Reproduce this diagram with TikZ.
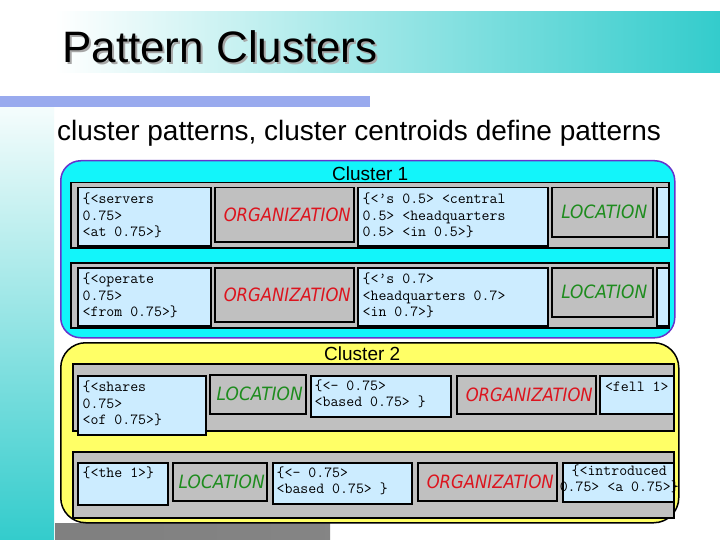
\documentclass[tikz,border=0pt]{standalone}
\usepackage{fontspec}
\usepackage{graphicx}
\setmainfont{Liberation Sans}
\newfontfamily\entf{DejaVu Sans}
\usetikzlibrary{calc}

\definecolor{tealc}{RGB}{51,204,204}
\definecolor{barblue}{RGB}{153,170,238}
\definecolor{cyanfill}{RGB}{18,245,250}
\definecolor{purpleb}{RGB}{102,51,204}
\definecolor{rowgray}{RGB}{192,192,192}
\definecolor{boxblue}{RGB}{204,236,255}
\definecolor{yelfill}{RGB}{255,255,102}
\definecolor{orgred}{RGB}{220,20,30}
\definecolor{locgreen}{RGB}{30,140,30}

\newcommand\pbox[7]{\node[#2,anchor=north west,minimum width={(#5-#3)*1pt},minimum height={(#6-#4)*1pt}] (#1) at (#3,#4) {#7};}
\newcommand\orgt{\hspace*{6pt}\resizebox{127pt}{13.6pt}{\entf\itshape ORGANIZATION}}
\newcommand\loct{\hspace*{4pt}\resizebox{86pt}{13.6pt}{\entf\itshape LOCATION}}

\tikzset{
 clusterone/.style={draw=purpleb, fill=cyanfill, line width=1.5pt, rounded corners=20pt, inner sep=0},
 clustertwo/.style={draw=black, fill=yelfill, line width=1.5pt, rounded corners=25pt, inner sep=0},
 rowbox/.style={draw=black, fill=rowgray, line width=1.5pt, inner sep=0},
 pattbox/.style={draw=black, fill=boxblue, line width=1.5pt, inner sep=0},
 entbox/.style={draw=black, fill=rowgray, line width=1.5pt, inner sep=0},
 orgbox/.style={entbox, text=orgred},
 locbox/.style={entbox, text=locgreen},
 mono/.style={font=\ttfamily\fontsize{15.4}{16.5}\selectfont, inner sep=0, align=left, anchor=north west},
 clab/.style={font=\fontsize{19}{19}\selectfont, inner sep=0, anchor=base},
 titletext/.style={font=\fontsize{44}{44}\selectfont, inner sep=0, anchor=base west},
 subtext/.style={font=\fontsize{28}{28}\selectfont, inner sep=0, anchor=base west},
}

\begin{document}
\begin{tikzpicture}[x=1pt,y=-1pt]
\useasboundingbox (0,0) rectangle (720,540);
\fill[white] (0,0) rectangle (720,540);

% background decoration
\shade[left color=white, middle color=white!80!tealc, right color=tealc] (55,12) rectangle (720,73);
\shade[top color=white!95!tealc, bottom color=tealc] (0,107) rectangle (54,540);
\fill[barblue] (0,96) rectangle (370,107);
\shade[left color=black!50, middle color=black!18, right color=black!48] (55,523) rectangle (330,540);

% titles
\node[titletext, text=black!35] at (64,65) {Pattern Clusters};
\node[titletext] (title) at (62,63) {Pattern Clusters};
\node[subtext] (sub) at (57,141) {cluster patterns, cluster centroids define patterns};

% Cluster 1
\pbox{c1}{clusterone}{60}{160}{674}{337}{}
\node[clab] (c1lab) at ($(c1.north)+(2.5,21)$) {Cluster 1};

\pbox{r1}{rowbox}{70}{182}{668}{247}{}
\pbox{b11}{pattbox}{77}{187}{210}{245}{}
\node[mono] at ($(b11.north west)+(5.5,4.8)$) {\strut\{<servers\\0.75>\\<at 0.75>\}};
\pbox{o11}{orgbox}{214}{187}{353}{241}{\orgt}
\pbox{b12}{pattbox}{357}{187}{547}{245}{}
\node[mono] at ($(b12.north west)+(5.5,4.8)$) {\strut\{<’s 0.5> <central\\0.5> <headquarters\\0.5> <in 0.5>\}};
\pbox{l11}{locbox}{551}{187}{652}{236}{\loct}
\pbox{b13}{pattbox}{656}{187}{668}{236}{}

\pbox{r2}{rowbox}{70}{262}{668}{327}{}
\pbox{b21}{pattbox}{77}{267}{210}{325}{}
\node[mono] at ($(b21.north west)+(5.5,4.8)$) {\strut\{<operate\\0.75>\\<from 0.75>\}};
\pbox{o21}{orgbox}{214}{267}{353}{321}{\orgt}
\pbox{b22}{pattbox}{357}{267}{547}{325}{}
\node[mono] at ($(b22.north west)+(5.5,4.8)$) {\strut\{<’s 0.7>\\<headquarters 0.7>\\<in 0.7>\}};
\pbox{l21}{locbox}{551}{267}{652}{316}{\loct}
\pbox{b23}{pattbox}{656}{267}{668}{325}{}

% Cluster 2
\pbox{c2}{clustertwo}{60}{342}{678}{522}{}
\node[clab] (c2lab) at ($(c2.north)+(-7.5,18)$) {Cluster 2};

\pbox{r3}{rowbox}{72}{363}{673}{430}{}
\pbox{b31}{pattbox}{77}{375}{205}{434}{}
\node[mono] at ($(b31.north west)+(5.5,4.8)$) {\strut\{<shares\\0.75>\\<of 0.75>\}};
\pbox{l31}{locbox}{209}{374}{305}{413}{\loct}
\pbox{b32}{pattbox}{310}{375}{450}{416}{}
\node[mono] at ($(b32.north west)+(4.5,3.5)$) {\strut\{<- 0.75>\\<based 0.75> \}};
\pbox{o31}{orgbox}{456}{375}{595}{413}{\orgt}
\pbox{b33}{pattbox}{599}{375}{673}{413}{}
\node[mono, anchor=north] at ($(b33.north)+(0,4.5)$) {\strut<fell 1>};

\pbox{r4}{rowbox}{72}{451}{673}{517}{}
\pbox{b43}{pattbox}{562}{462}{673}{501}{}
\node[mono, anchor=north, align=center, font=\ttfamily\fontsize{15.4}{15}\selectfont] at ($(b43.north)+(1,2.5)$) {\strut\{<introduced\\0.75> <a 0.75>\}};
\pbox{b41}{pattbox}{77}{462}{167}{504}{}
\node[mono] at ($(b41.north west)+(5.5,3.8)$) {\strut\{<the 1>\}};
\pbox{l41}{locbox}{172}{462}{266}{500}{\loct}
\pbox{b42}{pattbox}{272}{462}{411}{503}{}
\node[mono] at ($(b42.north west)+(4.5,3.5)$) {\strut\{<- 0.75>\\<based 0.75> \}};
\pbox{o41}{orgbox}{417}{462}{556}{500}{\orgt}
\end{tikzpicture}
\end{document}
